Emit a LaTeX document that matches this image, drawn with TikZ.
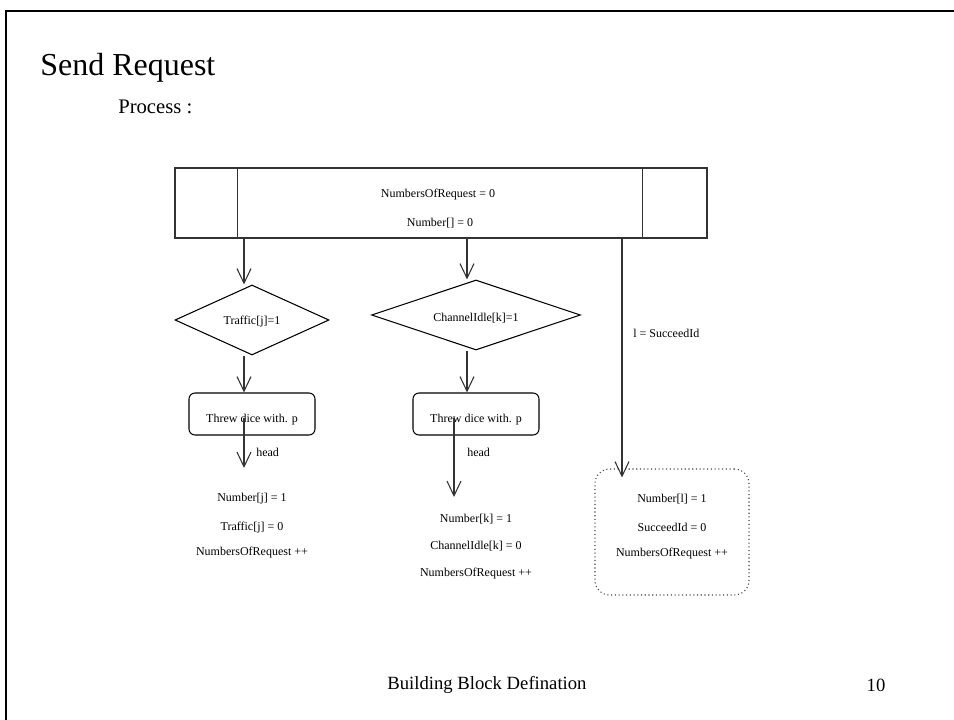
\documentclass[tikz,border=0pt]{standalone}
\usepackage{fontspec}
\setmainfont{Liberation Serif}
\usetikzlibrary{arrows.meta,calc,shapes.geometric}

\begin{document}
\begin{tikzpicture}[x=0.75pt,y=-0.75pt,
  conn/.style={draw=black!80, line width=0.8pt},
  arr/.style={conn, -{Straight Barb[length=11pt,width=10.5pt,line width=0.8pt]}},
  small/.style={font=\fontsize{9}{11}\selectfont, inner sep=0pt},
  decision/.style={draw=black, line width=0.8pt, diamond, inner sep=0pt,
    minimum height=52.5pt},
  stepbox/.style={draw=black, line width=0.8pt, rounded corners=4.5pt,
    minimum width=94.5pt, minimum height=31.5pt, inner sep=0pt},
  groupbox/.style={draw=black!75, dotted, line width=0.8pt,
    rounded corners=11pt, minimum width=115.5pt, minimum height=94.5pt, inner sep=0pt}
]
\useasboundingbox (0,0) rectangle (954,720);

% slide frame
\draw[line width=1.5pt] (6,720) -- (6,11) -- (954,11);

% headings
\node[anchor=west, inner sep=0pt, font=\fontsize{24}{28}\selectfont] (title) at (40,68) {Send Request};
\node[anchor=west, inner sep=0pt, font=\fontsize{15.5}{18}\selectfont] (proc) at (118,107) {Process :};

% initialisation block
\node[draw=black!80, line width=0.8pt, minimum width=399pt, minimum height=52.5pt, inner sep=0pt] (top) at (441,203) {};
\draw[black!80, line width=0.8pt] ($(top.north west)+(63,0)$) -- ($(top.south west)+(63,0)$);
\draw[black!80, line width=0.8pt] ($(top.north east)+(-65,0)$) -- ($(top.south east)+(-65,0)$);
\node[small] (init1) at (438,195) {NumbersOfRequest = 0};
\node[small] (init2) at (440,223) {Number[] = 0};

% column positions of the connectors
\coordinate (cx1) at (244,0);
\coordinate (cx2) at (467,0);
\coordinate (cx3) at (622,0);
\coordinate (hx1) at (244,0);
\coordinate (hx2) at (454,0);

% decisions
\node[decision, minimum width=115.5pt] (d1) at (252,320) {};
\node[small] (d1t) at (252,322) {Traffic[j]=1};
\node[decision, minimum width=156.75pt] (d2) at (476,315) {};
\node[small] (d2t) at (476,318) {ChannelIdle[k]=1};

% dice steps
\node[stepbox] (b1) at (252,414) {};
\node[small] (b1t) at (252,420) {Threw dice with. p};
\node[stepbox] (b2) at (476,414) {};
\node[small] (b2t) at (476,420) {Threw dice with. p};

% result groups
\node[small] (r1a) at (252,499) {Number[j] = 1};
\node[small] (r1b) at (252,528) {Traffic[j] = 0};
\node[small] (r1c) at (252,553) {NumbersOfRequest ++};

\node[small] (r2a) at (476,519) {Number[k] = 1};
\node[small] (r2b) at (476,546) {ChannelIdle[k] = 0};
\node[small] (r2c) at (476,574) {NumbersOfRequest ++};

\node[groupbox] (g3) at (672,532) {};
\node[small] (r3a) at (672,499) {Number[l] = 1};
\node[small] (r3b) at (672,527) {SucceedId = 0};
\node[small] (r3c) at (672,554) {NumbersOfRequest ++};

% connectors
\draw[arr] (top.south -| cx1) -- (d1.north -| cx1);
\draw[arr] (d1.south -| cx1) -- (b1.north -| cx1);
\coordinate (h1) at (244,468);
\draw[arr] ($(b1.center -| hx1)+(0,4)$) -- (h1);
\node[small, anchor=west] (head1) at (256,452) {head};

\draw[arr] (top.south -| cx2) -- (d2.north -| cx2);
\draw[arr] (d2.south -| cx2) -- (b2.north -| cx2);
\coordinate (h2) at (454,497);
\draw[arr] ($(b2.center -| hx2)+(0,4)$) -- (h2);
\node[small, anchor=west] (head2) at (467,452) {head};

\draw[arr] (top.south -| cx3) -- ($(g3.north -| cx3)+(0,9)$);
\node[small, anchor=west] (cond3) at (633,333) {l = SucceedId};

% footer
\node[font=\fontsize{14}{16}\selectfont, inner sep=0pt] (foot) at (487,685) {Building Block Defination};
\node[font=\fontsize{14}{16}\selectfont, inner sep=0pt] (page) at (876,685) {10};
\end{tikzpicture}
\end{document}
